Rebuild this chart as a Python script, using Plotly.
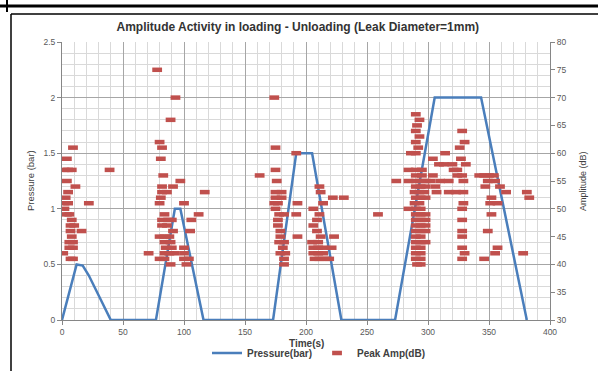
import plotly.graph_objects as go

# ---- Pressure (bar) vs time (s) ----
p_time = [0, 12, 17, 22, 40, 77, 92.5, 97, 116, 173, 192, 205, 229, 273, 305.5, 343.5, 381]
p_bar = [0, 0.5, 0.49, 0.4, 0, 0, 1.0, 1.0, 0, 0, 1.5, 1.5, 0, 0, 2.0, 2.0, 0]

# ---- Peak amplitude (dB) vs time (s), per loading cycle ----
c1_t = [9, 4, 2, 5, 8, 39, 4, 11, 5, 3, 2, 5, 22, 2, 4, 6, 8, 7, 10, 16, 7, 8, 6, 9, 6, 9, 1, 7, 9]
c1_db = [61, 59, 57, 57, 57, 57, 55, 54, 53, 52, 51, 51, 51, 50, 49, 49, 48, 47, 47, 46, 46, 45, 44, 44, 43, 43, 42, 41, 41]

c2_t = [78, 93, 89, 80, 82, 81, 83, 97, 82, 91, 82, 86, 117, 81, 80, 100, 84, 112, 82, 87, 90, 106,
        82, 86, 91, 105, 80, 84, 88, 84, 89, 85, 90, 100, 71, 84, 88, 92, 100, 80, 84, 100, 104, 89, 102]
c2_db = [75, 70, 66, 62, 61, 59, 56, 55, 54, 54, 53, 53, 53, 52, 51, 51, 49, 49, 48, 48, 48, 48,
         47, 47, 46, 46, 45, 45, 45, 44, 44, 43, 43, 43, 42, 42, 42, 42, 42, 41, 41, 41, 41, 40, 40]

c3_t = [174, 175, 192, 175, 162, 176, 211, 175, 180, 212, 175, 180, 222, 231, 174, 177, 193, 214,
        175, 206, 178, 182, 192, 211, 177, 209, 177, 206, 179, 209, 179, 193, 212, 223, 178, 182,
        205, 210, 181, 206, 210, 214, 221, 179, 183, 206, 210, 214, 182, 207, 211, 215, 219, 182, 259]
c3_db = [70, 61, 60, 57, 56, 55, 54, 53, 53, 53, 52, 52, 52, 52, 51, 51, 51, 51,
         50, 50, 49, 49, 49, 49, 48, 48, 47, 47, 46, 46, 45, 45, 45, 45, 44, 44,
         44, 44, 43, 43, 43, 43, 43, 42, 42, 42, 42, 42, 41, 41, 41, 41, 41, 40, 49]

c4_t = [290, 293, 291, 290, 328, 293, 290, 330, 292, 326, 286, 290, 314, 304, 327, 309, 313, 320, 331,
        284, 290, 295, 321, 324, 290, 295, 304, 324, 328, 342, 346, 350, 354,
        274, 284, 290, 294, 298, 302, 310, 317, 329, 349, 355,
        290, 294, 298, 306, 347, 359,
        289, 293, 297, 307, 317, 323, 329, 364, 381,
        290, 294, 298, 352, 383,
        289, 293, 329, 351, 357,
        284, 290, 294, 328,
        290, 294, 298, 352,
        290, 294, 298, 328,
        290, 294, 298,
        290, 294, 298, 328, 349,
        290, 294, 328,
        290, 294, 298,
        290, 294, 328, 357,
        290, 294, 330, 355, 378,
        290, 294, 328, 346,
        291, 294]
c4_db = [67, 66, 65, 64, 64, 63, 62, 62, 61, 61, 60, 60, 60, 59, 59, 58, 58, 58, 58,
         57, 57, 57, 57, 57, 56, 56, 56, 56, 56, 56, 56, 56, 56,
         55, 55, 55, 55, 55, 55, 55, 55, 55, 55, 55,
         54, 54, 54, 54, 54, 54,
         53, 53, 53, 53, 53, 53, 53, 53, 53,
         52, 52, 52, 52, 52,
         51, 51, 51, 51, 51,
         50, 50, 50, 50,
         49, 49, 49, 49,
         48, 48, 48, 48,
         47, 47, 47,
         46, 46, 46, 46, 46,
         45, 45, 45,
         44, 44, 44,
         43, 43, 43, 43,
         42, 42, 42, 42, 42,
         41, 41, 41, 41,
         40, 40]

amp_t = c1_t + c2_t + c3_t + c4_t
amp_db = c1_db + c2_db + c3_db + c4_db

title_text = "Amplitude Activity in loading - Unloading (Leak Diameter=1mm)"
FONT = "Liberation Sans"
TXT = "#404040"

fig = go.Figure()
fig.add_trace(go.Scatter(
    x=amp_t, y=amp_db, yaxis="y2", mode="markers", name="<b>Peak Amp(dB)</b>",
    marker=dict(symbol="line-ew", size=7, color="#C0504D",
                line=dict(width=4.5, color="#C0504D")),
))
fig.add_trace(go.Scatter(
    x=p_time, y=p_bar, mode="lines", name="<b>Pressure(bar)</b>",
    line=dict(color="#4A7EBB", width=2.5),
))

W, H = 598, 371
L, R, T, B = 62, 48, 42, 51
pw, ph = W - L - R, H - T - B
def px(x):
    return (x - L) / pw
def py(y):
    return (H - B - y) / ph

shapes = [
    dict(type="line", xref="paper", yref="paper", x0=px(0), x1=px(W), y0=py(6), y1=py(6),
         line=dict(color="black", width=3)),
    dict(type="line", xref="paper", yref="paper", x0=px(7), x1=px(7), y0=py(0), y1=py(12),
         line=dict(color="black", width=2)),
    dict(type="line", xref="paper", yref="paper", x0=px(11), x1=px(W), y0=py(14), y1=py(14),
         line=dict(color="black", width=1.5)),
    dict(type="line", xref="paper", yref="paper", x0=px(11), x1=px(11), y0=py(14), y1=py(H),
         line=dict(color="black", width=1.5)),
]

annotations = [
    dict(text="<b>Time(s)</b>", xref="paper", yref="paper", x=px(306), y=py(343),
         xanchor="center", yanchor="middle", showarrow=False, font=dict(size=10, color=TXT)),
    dict(text="Pressure (bar)", xref="paper", yref="paper", x=px(30), y=py(181),
         xanchor="center", yanchor="middle", showarrow=False, textangle=-90,
         font=dict(size=9.5, color=TXT)),
    dict(text="Amplitude (dB)", xref="paper", yref="paper", x=px(583), y=py(181),
         xanchor="center", yanchor="middle", showarrow=False, textangle=-90,
         font=dict(size=9, color=TXT)),
]

fig.update_layout(
    width=W, height=H,
    margin=dict(l=L, r=R, t=T, b=B, pad=0, autoexpand=False),
    paper_bgcolor="white", plot_bgcolor="white",
    font=dict(family=FONT, size=9, color=TXT),
    title=dict(text="<b>" + title_text + "</b>", x=px(305), xanchor="center",
               y=1 - 27 / H, yanchor="middle", font=dict(size=12, color="#333333")),
    showlegend=True,
    legend=dict(orientation="h", x=px(319), xanchor="center", yref="container",
                y=1 - 353 / H, yanchor="middle",
                font=dict(size=10, color=TXT), traceorder="reversed",
                itemwidth=30, bgcolor="rgba(0,0,0,0)"),
    xaxis=dict(range=[0, 400], dtick=50, tick0=0, showgrid=True, gridcolor="#A6A6A6",
               gridwidth=1, zeroline=False, showline=True, linecolor="#868686",
               ticks="outside", ticklen=4, tickcolor="#868686", automargin=False,
               tickfont=dict(size=8.5, color="#595959"),
               minor=dict(dtick=10, showgrid=True, gridcolor="#D9D9D9", gridwidth=1)),
    yaxis=dict(range=[0, 2.5], dtick=0.5, tick0=0, showgrid=True, gridcolor="#A6A6A6",
               zeroline=False, showline=True, linecolor="#868686", automargin=False,
               ticks="outside", ticklen=4, tickcolor="#868686",
               tickfont=dict(size=8.5, color="#595959"),
               minor=dict(dtick=0.1, showgrid=True, gridcolor="#D9D9D9", gridwidth=1)),
    yaxis2=dict(range=[30, 80], dtick=5, tick0=30, overlaying="y", side="right",
                showgrid=False, zeroline=False, showline=True, linecolor="#868686",
                ticks="outside", ticklen=4, tickcolor="#868686", automargin=False,
                tickfont=dict(size=8.5, color="#595959")),
    shapes=shapes,
    annotations=annotations,
)

fig.write_html("out.html")
